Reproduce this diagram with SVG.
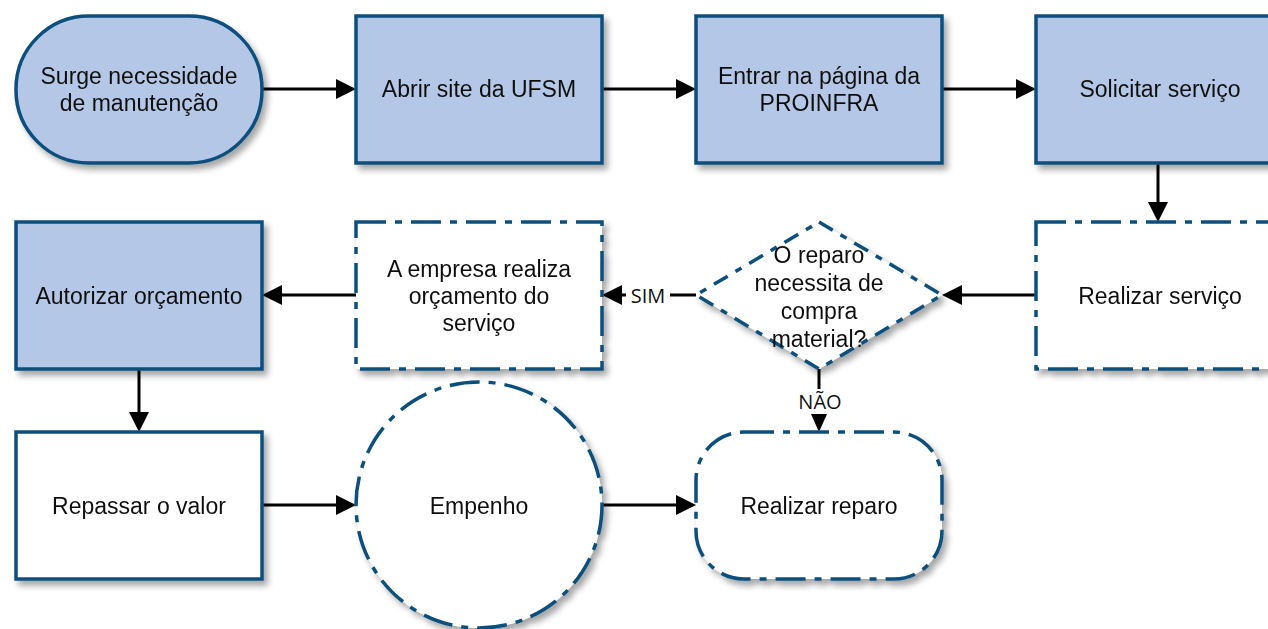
<svg xmlns="http://www.w3.org/2000/svg" width="1268" height="629" viewBox="0 0 1268 629">
<style>
.t{font-family:"Liberation Sans",Arial,sans-serif;font-size:23px;fill:#111;text-anchor:middle}
.lbl{font-family:"Open Sans","DejaVu Sans",sans-serif;font-size:20px;fill:#111;text-anchor:middle}
.blue{fill:#b4c7e7;stroke:#0b4f7c;stroke-width:3.5}
.white{fill:#ffffff;stroke:#0b4f7c;stroke-width:3.5}
.dd{fill:#ffffff;stroke:#0b4f7c;stroke-width:3.5;stroke-dasharray:30 9 7 9}
.dash{fill:#ffffff;stroke:#0b4f7c;stroke-width:3.5;stroke-dasharray:16 9 7 9}
.ln{stroke:#000;stroke-width:3;fill:none}
</style>
<defs>
<filter id="sh" x="-10%" y="-10%" width="130%" height="130%">
<feGaussianBlur in="SourceAlpha" stdDeviation="3"/>
<feOffset dx="4" dy="5" result="b"/>
<feComponentTransfer><feFuncA type="linear" slope="0.35"/></feComponentTransfer>
<feMerge><feMergeNode/><feMergeNode in="SourceGraphic"/></feMerge>
</filter>
</defs>
<g id="connectors">
<path class="ln" d="M262,89 H340"/>
<polygon points="336,79 356,89 336,99" fill="#000"/>
<path class="ln" d="M602,89 H680"/>
<polygon points="676,79 696,89 676,99" fill="#000"/>
<path class="ln" d="M942,89 H1020"/>
<polygon points="1016,79 1036,89 1016,99" fill="#000"/>
<path class="ln" d="M1158,163 V206"/>
<polygon points="1148,202 1158,222 1168,202" fill="#000"/>
<path class="ln" d="M1036,295 H958"/>
<polygon points="962,285 942,295 962,305" fill="#000"/>
<path class="ln" d="M696,295 H618"/>
<polygon points="622,285 602,295 622,305" fill="#000"/>
<path class="ln" d="M356,295 H278"/>
<polygon points="282,285 262,295 282,305" fill="#000"/>
<path class="ln" d="M139,369 V416"/>
<polygon points="129,412 139,432 149,412" fill="#000"/>
<path class="ln" d="M262,505 H340"/>
<polygon points="336,495 356,505 336,515" fill="#000"/>
<path class="ln" d="M602,505 H680"/>
<polygon points="676,495 696,505 676,515" fill="#000"/>
<path class="ln" d="M819,369 V416"/>
<polygon points="811,414 819,432 827,414" fill="#000"/>
<rect x="626" y="284" width="44" height="22" fill="#fff"/>
<text class="lbl" x="648" y="303">SIM</text>
<rect x="796" y="389" width="46" height="25" fill="#fff"/>
<text class="lbl" x="820" y="409">NÃO</text>
</g>
<g id="n1" filter="url(#sh)">
<rect class="blue" x="16" y="16" width="246" height="147" rx="73" ry="73"/>
<text class="t" x="139" y="84">Surge necessidade</text>
<text class="t" x="139" y="111">de manutenção</text>
</g>
<g id="n2" filter="url(#sh)">
<rect class="blue" x="356" y="16" width="246" height="147"/>
<text class="t" x="479" y="97">Abrir site da UFSM</text>
</g>
<g id="n3" filter="url(#sh)">
<rect class="blue" x="696" y="16" width="246" height="147"/>
<text class="t" x="819" y="84">Entrar na página da</text>
<text class="t" x="819" y="111">PROINFRA</text>
</g>
<g id="n4" filter="url(#sh)">
<rect class="blue" x="1036" y="16" width="250" height="147"/>
<text class="t" x="1160" y="97">Solicitar serviço</text>
</g>
<g id="n5" filter="url(#sh)">
<rect class="dd" x="1036" y="222" width="250" height="147"/>
<text class="t" x="1160" y="304">Realizar serviço</text>
</g>
<g id="n6" filter="url(#sh)">
<polygon class="dash" points="819,222 942,295 819,369 696,295"/>
<text class="t" x="819" y="263">O reparo</text>
<text class="t" x="819" y="291">necessita de</text>
<text class="t" x="819" y="319">compra</text>
<text class="t" x="819" y="347">material?</text>
</g>
<g id="n7" filter="url(#sh)">
<rect class="dd" x="356" y="222" width="246" height="147"/>
<text class="t" x="479" y="277">A empresa realiza</text>
<text class="t" x="479" y="304">orçamento do</text>
<text class="t" x="479" y="331">serviço</text>
</g>
<g id="n8" filter="url(#sh)">
<rect class="blue" x="16" y="222" width="246" height="147"/>
<text class="t" x="139" y="304">Autorizar orçamento</text>
</g>
<g id="n9" filter="url(#sh)">
<rect class="white" x="16" y="432" width="246" height="147"/>
<text class="t" x="139" y="514">Repassar o valor</text>
</g>
<g id="n10" filter="url(#sh)">
<ellipse class="dd" cx="479" cy="505" rx="123" ry="123"/>
<text class="t" x="479" y="514">Empenho</text>
</g>
<g id="n11" filter="url(#sh)">
<rect class="dd" x="696" y="432" width="246" height="147" rx="48" ry="48"/>
<text class="t" x="819" y="514">Realizar reparo</text>
</g>
</svg>
